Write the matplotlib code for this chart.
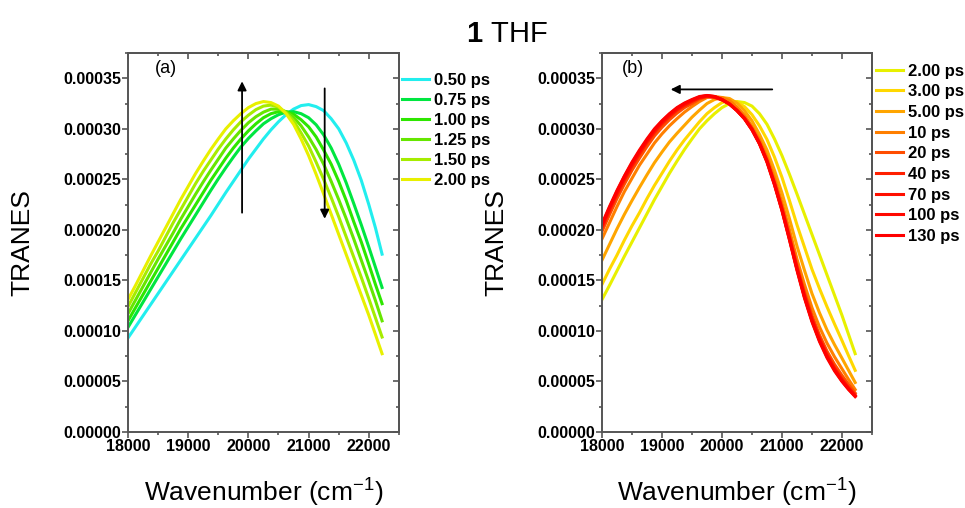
import numpy as np
import matplotlib
matplotlib.use("Agg")
import matplotlib.pyplot as plt

plt.rcParams['font.family'] = ['Liberation Sans', 'DejaVu Sans']
plt.rcParams['mathtext.fontset'] = 'custom'
plt.rcParams['mathtext.rm'] = 'Liberation Sans'
plt.rcParams['mathtext.bf'] = 'Liberation Sans:bold'

# wavenumber grid (cm-1); TRANES values below are in units of 1e-4
wavenumber = [18000, 18125, 18250, 18375, 18500, 18625, 18750, 18875, 19000,
              19125, 19250, 19375, 19500, 19625, 19750, 19875, 20000, 20125,
              20250, 20375, 20500, 20625, 20750, 20875, 21000, 21125, 21250,
              21375, 21500, 21625, 21750, 21875, 22000, 22110, 22220]

# panel (a): early times
a_050 = [0.93, 1.04, 1.15, 1.26, 1.37, 1.48, 1.59, 1.70, 1.81, 1.92, 2.03, 2.14,
         2.255, 2.37, 2.48, 2.59, 2.70, 2.80, 2.90, 2.99, 3.07, 3.14, 3.195,
         3.23, 3.24, 3.22, 3.18, 3.10, 3.00, 2.86, 2.69, 2.49, 2.25, 2.02, 1.76]
a_075 = [1.035, 1.16, 1.285, 1.41, 1.535, 1.66, 1.785, 1.91, 2.03, 2.15, 2.27,
         2.39, 2.505, 2.615, 2.72, 2.82, 2.905, 2.98, 3.05, 3.10, 3.14, 3.165,
         3.17, 3.15, 3.11, 3.04, 2.94, 2.81, 2.65, 2.465, 2.26, 2.05, 1.83, 1.63, 1.43]
a_100 = [1.10, 1.23, 1.36, 1.49, 1.62, 1.75, 1.88, 2.01, 2.13, 2.25, 2.37, 2.49,
         2.60, 2.71, 2.81, 2.90, 2.98, 3.05, 3.11, 3.15, 3.17, 3.17, 3.145, 3.09,
         3.02, 2.92, 2.79, 2.65, 2.48, 2.29, 2.08, 1.88, 1.66, 1.46, 1.27]
a_125 = [1.17, 1.305, 1.44, 1.575, 1.71, 1.84, 1.97, 2.105, 2.23, 2.355, 2.475,
         2.59, 2.70, 2.81, 2.90, 2.985, 3.06, 3.12, 3.165, 3.195, 3.195, 3.17,
         3.115, 3.03, 2.92, 2.795, 2.65, 2.48, 2.30, 2.11, 1.91, 1.70, 1.49, 1.30, 1.10]
a_150 = [1.24, 1.38, 1.52, 1.66, 1.79, 1.93, 2.07, 2.20, 2.33, 2.46, 2.58, 2.69,
         2.80, 2.90, 2.99, 3.07, 3.135, 3.19, 3.225, 3.235, 3.215, 3.16, 3.08,
         2.96, 2.83, 2.67, 2.50, 2.32, 2.13, 1.93, 1.73, 1.53, 1.32, 1.13, 0.94]
a_200 = [1.31, 1.45, 1.595, 1.74, 1.88, 2.02, 2.16, 2.30, 2.43, 2.56, 2.68,
         2.795, 2.90, 3.00, 3.08, 3.15, 3.21, 3.25, 3.27, 3.26, 3.225, 3.15,
         3.045, 2.90, 2.735, 2.55, 2.355, 2.155, 1.955, 1.755, 1.555, 1.355,
         1.155, 0.965, 0.775]

# panel (b): later times (first trace is the same 2.00 ps spectrum)
b_300 = [1.46, 1.61, 1.75, 1.90, 2.04, 2.17, 2.31, 2.44, 2.56, 2.68, 2.79, 2.89,
         2.98, 3.07, 3.15, 3.21, 3.26, 3.28, 3.265, 3.22, 3.14, 3.03, 2.895,
         2.72, 2.52, 2.29, 2.05, 1.83, 1.61, 1.42, 1.24, 1.07, 0.905, 0.755, 0.61]
b_500 = [1.70, 1.855, 2.01, 2.155, 2.29, 2.42, 2.545, 2.665, 2.77, 2.87, 2.955,
         3.035, 3.115, 3.185, 3.25, 3.29, 3.31, 3.30, 3.255, 3.18, 3.08, 2.945,
         2.79, 2.59, 2.365, 2.11, 1.84, 1.60, 1.37, 1.18, 1.01, 0.865, 0.73, 0.61, 0.49]
b_10 = [1.91, 2.07, 2.23, 2.38, 2.51, 2.64, 2.75, 2.86, 2.95, 3.03, 3.10, 3.165,
        3.22, 3.27, 3.31, 3.32, 3.31, 3.28, 3.215, 3.135, 3.025, 2.895, 2.725,
        2.515, 2.27, 2.00, 1.71, 1.46, 1.23, 1.04, 0.88, 0.745, 0.625, 0.52, 0.42]
b_20 = [1.985, 2.15, 2.31, 2.455, 2.59, 2.71, 2.825, 2.93, 3.015, 3.09, 3.155,
        3.21, 3.25, 3.295, 3.32, 3.32, 3.29, 3.25, 3.185, 3.11, 3.005, 2.87,
        2.695, 2.475, 2.23, 1.945, 1.65, 1.385, 1.155, 0.96, 0.80, 0.67, 0.56,
        0.47, 0.385]
b_40 = [2.02, 2.19, 2.35, 2.495, 2.63, 2.75, 2.865, 2.965, 3.05, 3.12, 3.185,
        3.23, 3.27, 3.305, 3.32, 3.31, 3.285, 3.245, 3.185, 3.105, 3.00, 2.86,
        2.685, 2.465, 2.21, 1.925, 1.63, 1.36, 1.125, 0.93, 0.77, 0.635, 0.525,
        0.44, 0.365]
b_70 = [2.04, 2.21, 2.37, 2.515, 2.65, 2.77, 2.88, 2.985, 3.065, 3.135, 3.195,
        3.245, 3.28, 3.31, 3.325, 3.315, 3.29, 3.245, 3.18, 3.10, 2.995, 2.855,
        2.68, 2.455, 2.20, 1.915, 1.615, 1.34, 1.105, 0.91, 0.75, 0.62, 0.51,
        0.43, 0.36]
b_100 = [2.05, 2.22, 2.38, 2.53, 2.66, 2.78, 2.89, 2.99, 3.075, 3.145, 3.205,
         3.25, 3.285, 3.315, 3.33, 3.32, 3.29, 3.245, 3.18, 3.10, 2.99, 2.855,
         2.675, 2.45, 2.195, 1.905, 1.61, 1.335, 1.10, 0.905, 0.745, 0.615, 0.505,
         0.425, 0.355]
b_130 = [2.06, 2.23, 2.39, 2.535, 2.67, 2.79, 2.90, 3.00, 3.08, 3.15, 3.21,
         3.255, 3.29, 3.32, 3.33, 3.32, 3.29, 3.245, 3.18, 3.10, 2.99, 2.85,
         2.67, 2.445, 2.19, 1.90, 1.60, 1.325, 1.09, 0.895, 0.735, 0.605, 0.50,
         0.42, 0.35]

a_labels = ["0.50 ps", "0.75 ps", "1.00 ps", "1.25 ps", "1.50 ps", "2.00 ps"]
a_colors = ["#22EEEE", "#00E640", "#2EE600", "#66E600", "#A6EC00", "#E8F000"]
b_labels = ["2.00 ps", "3.00 ps", "5.00 ps", "10 ps", "20 ps", "40 ps",
            "70 ps", "100 ps", "130 ps"]
b_colors = ["#E8F000", "#FFD800", "#FFA500", "#FF7F00", "#FF4D00", "#FF2000",
            "#FF1000", "#FF0800", "#FF0000"]

a_series = [a_050, a_075, a_100, a_125, a_150, a_200]
b_series = [a_200, b_300, b_500, b_10, b_20, b_40, b_70, b_100, b_130]

fig = plt.figure(figsize=(9.65, 5.08), dpi=100)
ax_a = fig.add_axes([0.1326, 0.1496, 0.2808, 0.746])
ax_b = fig.add_axes([0.6238, 0.1496, 0.2798, 0.746])

spine_col = "#555555"
major_x = [18000, 19000, 20000, 21000, 22000]
minor_x = np.arange(18500, 22600, 1000)
major_y = np.arange(0, 0.00036, 0.00005)
minor_y = np.arange(0.000025, 0.000376, 0.00005)


def style_axes(ax):
    ax.set_xlim(18000, 22500)
    ax.set_ylim(0, 0.000375)
    ax.set_xticks(major_x)
    ax.set_xticks(minor_x, minor=True)
    ax.set_yticks(major_y)
    ax.set_yticks(minor_y, minor=True)
    ax.yaxis.set_major_formatter(plt.FormatStrFormatter('%.5f'))
    for sp in ax.spines.values():
        sp.set_color(spine_col)
        sp.set_linewidth(1.4)
    ax.tick_params(which='both', direction='out', color=spine_col, width=1.2,
                   labelsize=11.5, pad=1)
    ax.tick_params(which='major', length=4)
    ax.tick_params(which='minor', length=2.5)
    for lab in ax.get_xticklabels() + ax.get_yticklabels():
        lab.set_fontweight('bold')
    # Origin style: inward ticks on the top and right edges
    top = ax.secondary_xaxis('top')
    top.set_xticks(major_x)
    top.set_xticks(minor_x, minor=True)
    top.tick_params(which='both', direction='in', color=spine_col, width=1.2,
                    labeltop=False)
    top.tick_params(which='major', length=4)
    top.tick_params(which='minor', length=2.5)
    top.spines['top'].set_color(spine_col)
    top.spines['top'].set_linewidth(1.4)
    right = ax.secondary_yaxis('right')
    right.set_yticks(major_y)
    right.set_yticks(minor_y, minor=True)
    right.tick_params(which='both', direction='in', color=spine_col, width=1.2,
                      labelright=False)
    right.tick_params(which='major', length=4)
    right.tick_params(which='minor', length=2.5)
    right.spines['right'].set_color(spine_col)
    right.spines['right'].set_linewidth(1.4)
    ax.set_ylabel("TRANES", fontsize=19)
    ax.yaxis.set_label_coords(-0.345, 0.5)
    ax.set_xlabel("Wavenumber (cm$^{-1}$)", fontsize=19)
    ax.xaxis.set_label_coords(0.5, -0.115)


wn = np.array(wavenumber)
for vals, lab, col in zip(a_series, a_labels, a_colors):
    ax_a.plot(wn, np.array(vals) * 1e-4, color=col, lw=2.2, label=lab)
for vals, lab, col in zip(b_series, b_labels, b_colors):
    ax_b.plot(wn, np.array(vals) * 1e-4, color=col, lw=2.2, label=lab)

style_axes(ax_a)
style_axes(ax_b)

leg_kw = dict(frameon=False, loc='upper left', borderpad=0, borderaxespad=0,
              handlelength=1.6, handletextpad=0.3,
              prop={'weight': 'bold', 'size': 12})
ax_a.legend(bbox_to_anchor=(1.012, 0.948), labelspacing=0.3, **leg_kw)
ax_b.legend(bbox_to_anchor=(1.016, 0.972), labelspacing=0.34, **leg_kw)

ax_a.text(0.1, 0.96, "(a)", transform=ax_a.transAxes, fontsize=13,
          ha='left', va='center')
ax_b.text(0.072, 0.96, "(b)", transform=ax_b.transAxes, fontsize=13,
          ha='left', va='center')

arrow = dict(arrowstyle='-|>', color='black', lw=1.3, mutation_scale=13,
             shrinkA=0, shrinkB=0)
ax_a.annotate("", xy=(19895, 0.000347), xytext=(19895, 0.000217), arrowprops=arrow)
ax_a.annotate("", xy=(21267, 0.000211), xytext=(21267, 0.000340), arrowprops=arrow)
ax_b.annotate("", xy=(19145, 0.000339), xytext=(20838, 0.000339), arrowprops=arrow)

fig.text(0.525, 0.917, r"$\mathbf{1}$ THF", fontsize=21, ha='center', va='baseline')

fig.savefig("out.png", dpi=100)
